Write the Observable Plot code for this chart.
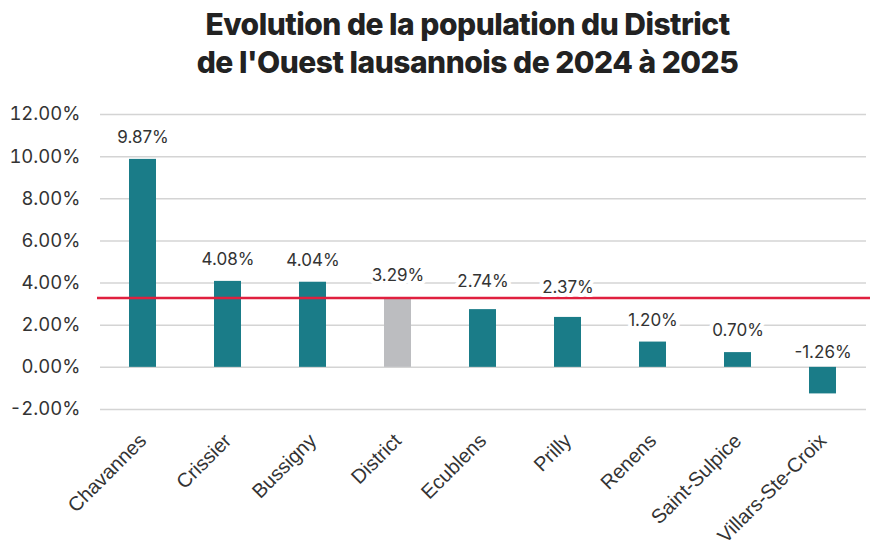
<!DOCTYPE html>
<html><head><meta charset="utf-8">
<script src="https://cdn.jsdelivr.net/npm/d3@7"></script>
<script src="https://cdn.jsdelivr.net/npm/@observablehq/plot@0.6"></script>
<style>
body{margin:0;background:#fff;width:875px;height:546px;overflow:hidden;}
#title{height:85px;box-sizing:border-box;padding-top:5px;padding-left:60px;text-align:center;font-family:Inter,sans-serif;font-weight:800;font-size:30px;line-height:38px;letter-spacing:-0.5px;color:#222;}
</style></head><body>
<div id="title">Evolution de la population du District<br>de l'Ouest lausannois de 2024 à 2025</div>
<div id="chart"></div>
<script>
const categories = ["Chavannes","Crissier","Bussigny","District","Ecublens","Prilly","Renens","Saint-Sulpice","Villars-Ste-Croix"];
const values = [9.87, 4.08, 4.04, 3.29, 2.74, 2.37, 1.20, 0.70, -1.26];
const districtValue = 3.29;
const yTicks = [-2, 0, 2, 4, 6, 8, 10, 12];

const data = categories.map((c, i) => ({cat: c, v: values[i]}));
const fmt = v => v.toFixed(2) + "%";

// label offsets (px): moved clear of the red district line where needed
const labelDy = d => d.v < 0 ? -15 : d.cat === "Ecublens" ? -28 : d.cat === "Prilly" ? -30 : -22;
const labelMarks = data.map(d => Plot.text([d], {
  x: "cat", y: r => Math.max(r.v, 0), text: r => fmt(r.v), dy: labelDy(d),
  fontSize: 17, fill: "#333", stroke: "white", strokeWidth: 8, paintOrder: "stroke"
}));

const chart = Plot.plot({
  width: 875,
  height: 461,
  marginLeft: 100,
  marginRight: 9,
  marginTop: 29,
  marginBottom: 137,
  style: {fontFamily: "Inter, sans-serif", color: "#333", background: "#fff", overflow: "visible"},
  x: {domain: categories, paddingInner: 0.68, paddingOuter: 0.34, label: null},
  y: {domain: [-2, 12], label: null},
  marks: [
    Plot.ruleY(yTicks, {stroke: "#d4d4d4", strokeWidth: 1.5}),
    Plot.barY(data, {x: "cat", y: "v", fill: d => d.cat === "District" ? "#bcbdc0" : "#1a7c88"}),
    Plot.ruleY([districtValue], {stroke: "#e0203f", strokeWidth: 2.5, insetLeft: -3, insetRight: -4}),
    ...labelMarks,
    Plot.axisY(yTicks, {tickSize: 0, tickPadding: 20, tickFormat: fmt, fontSize: 18.5, fill: "#333", label: null}),
    Plot.axisX({tickSize: 0, tickRotate: -45, tickPadding: 28, dx: 0, fontSize: 20, fontFamily: "Liberation Sans, sans-serif", fill: "#333", label: null})
  ]
});
document.getElementById("chart").appendChild(chart);
</script>
</body></html>
